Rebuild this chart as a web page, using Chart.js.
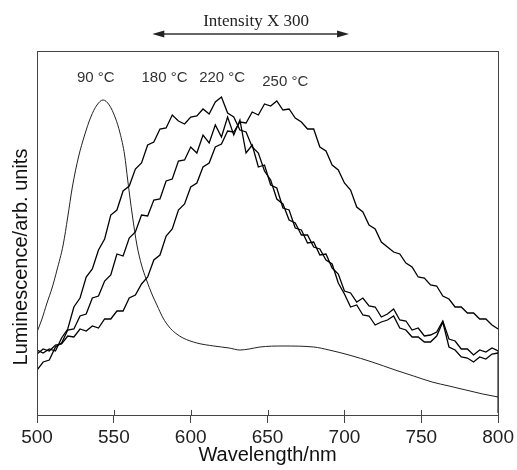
<!DOCTYPE html>
<html>
<head>
<meta charset="utf-8">
<script src="https://cdn.jsdelivr.net/npm/chart.js@4"></script>
<style>
  html, body { margin: 0; padding: 0; background: #fff; }
</style>
</head>
<body>
<canvas id="chart" width="517" height="470"></canvas>
<script>
// wavelength grid (nm) for the three noisy spectra
const wavelengths = [500,504,508,512,516,520,524,528,532,536,540,544,548,552,556,560,564,568,572,576,
  580,584,588,592,596,600,604,608,612,616,620,624,628,632,636,640,644,648,652,656,
  660,664,668,672,676,680,684,688,692,696,700,704,708,712,716,720,724,728,732,736,
  740,744,748,752,756,760,764,768,772,776,780,784,788,792,796,800];

const lum180 = [65,62,66,64,77,86,108,117,138,146,165,176,200,205,224,229,246,252,270,273,
  286,287,300,294,291,298,299,306,301,313,318,302,298,285,283,268,262,244,235,216,
  211,195,192,180,180,168,166,155,151,132,121,108,110,100,99,90,93,95,99,87,
  85,78,78,73,73,79,93,68,65,58,57,53,58,56,61,62];

const lum220 = [45,53,55,68,72,85,86,99,101,117,119,134,140,161,159,177,183,200,199,215,
  216,234,236,254,255,268,262,280,272,290,278,298,280,295,262,270,248,250,230,227,
  207,205,187,185,172,173,160,161,147,141,124,122,113,117,109,108,98,101,106,95,
  94,85,87,79,80,83,94,76,74,66,66,60,65,63,67,64];

const lum250 = [61,66,64,70,71,79,78,86,84,89,87,96,96,104,104,117,120,131,138,155,
  160,179,186,205,211,228,232,248,252,268,271,284,283,293,292,303,300,311,309,314,
  305,306,297,293,286,286,268,264,250,245,232,225,208,203,190,186,173,168,163,161,
  152,148,138,137,130,129,119,116,108,108,102,102,96,96,90,86];

// 90 °C spectrum (smooth, not scaled)
const wl90 = [500,503,506.5,510,513,517,520,523,527,531,535,539,543,547,551,554,557,559,562,565,
  568,571,575,578,582,586,590,595,604,615,625,632,638,645,660,680,690,703,718,733,
  745,757,768,779,790,800];
const lum90 = [83,95,112,128,145,170,198,228,258,280,298,310,315,310,297,282,260,235,200,170,
  150,136,120,110,97,88,82,77,72,69,67,65,66,68,69,68,65,60,53,45,
  39,33,29,25,21,18];

// the spectrum drops to the baseline at the right edge
const endDropWl = 800;
const endDropLum = 2;

const xTicks = [500, 550, 600, 650, 700, 750, 800];

// labels placed in data units
const tempLabels = ['90 °C', '180 °C', '220 °C', '250 °C'];
const tempLabelWl = [526, 568, 605.5, 646.5];
const tempLabelLum = [333, 333, 333, 329];

function pts(xs, ys) {
    return xs.map((x, i) => ({ x: x, y: ys[i] }));
}

const data220 = pts(wavelengths, lum220);
data220.push({ x: endDropWl, y: endDropLum });

const annotations = {
    id: 'annotations',
    afterDraw(chart) {
        const { ctx, chartArea, scales: { x, y } } = chart;
        ctx.save();

        // frame around the plot
        ctx.strokeStyle = '#444';
        ctx.lineWidth = 1;
        ctx.strokeRect(Math.round(chartArea.left) + 0.5, Math.round(chartArea.top) + 0.5,
            Math.round(chartArea.right - chartArea.left), Math.round(chartArea.bottom - chartArea.top));

        // short inner part of the x ticks
        x.ticks.forEach(t => {
            const px = Math.round(x.getPixelForValue(t.value)) + 0.5;
            ctx.beginPath();
            ctx.moveTo(px, chartArea.bottom);
            ctx.lineTo(px, chartArea.bottom - 5);
            ctx.stroke();
        });

        // temperature labels
        ctx.fillStyle = '#333';
        ctx.font = '15px "Liberation Sans", Arial, sans-serif';
        ctx.textAlign = 'left';
        ctx.textBaseline = 'alphabetic';
        tempLabels.forEach((txt, i) => {
            ctx.fillText(txt, x.getPixelForValue(tempLabelWl[i]), y.getPixelForValue(tempLabelLum[i]));
        });

        // "Intensity X 300" with double arrow
        ctx.fillStyle = '#222';
        ctx.font = '17px "Liberation Serif", "Times New Roman", serif';
        ctx.textAlign = 'center';
        ctx.fillText('Intensity X 300', x.getPixelForValue(642.5), y.getPixelForValue(389));

        const ax1 = x.getPixelForValue(575), ax2 = x.getPixelForValue(703);
        const ay = y.getPixelForValue(381);
        ctx.strokeStyle = '#333';
        ctx.lineWidth = 1.5;
        ctx.beginPath();
        ctx.moveTo(ax1 + 6, ay);
        ctx.lineTo(ax2 - 6, ay);
        ctx.stroke();
        ctx.fillStyle = '#222';
        ctx.beginPath();
        ctx.moveTo(ax1, ay); ctx.lineTo(ax1 + 12, ay - 3.5); ctx.lineTo(ax1 + 12, ay + 3.5); ctx.closePath();
        ctx.fill();
        ctx.beginPath();
        ctx.moveTo(ax2, ay); ctx.lineTo(ax2 - 12, ay - 3.5); ctx.lineTo(ax2 - 12, ay + 3.5); ctx.closePath();
        ctx.fill();

        // y axis title
        ctx.translate(chartArea.left - 10, y.getPixelForValue(158));
        ctx.rotate(-Math.PI / 2);
        ctx.fillStyle = '#111';
        ctx.font = '20px "Liberation Sans", Arial, sans-serif';
        ctx.textAlign = 'center';
        ctx.textBaseline = 'alphabetic';
        ctx.fillText('Luminescence/arb. units', 0, 0);

        ctx.restore();
    }
};

const noisy = { borderColor: '#000', borderWidth: 1.3, pointRadius: 0, tension: 0, fill: false };

new Chart(document.getElementById('chart'), {
    type: 'line',
    data: {
        datasets: [
            Object.assign({ label: '180 °C', data: pts(wavelengths, lum180) }, noisy),
            Object.assign({ label: '220 °C', data: data220 }, noisy),
            Object.assign({ label: '250 °C', data: pts(wavelengths, lum250) }, noisy),
            { label: '90 °C', data: pts(wl90, lum90), borderColor: '#222', borderWidth: 1,
              pointRadius: 0, cubicInterpolationMode: 'monotone', fill: false }
        ]
    },
    options: {
        responsive: false,
        animation: false,
        layout: { padding: { top: 51, right: 17, left: 0, bottom: 0 } },
        plugins: { legend: { display: false }, tooltip: { enabled: false } },
        scales: {
            x: {
                type: 'linear', min: 500, max: 800,
                afterBuildTicks: s => { s.ticks = xTicks.map(v => ({ value: v })); },
                ticks: { font: { family: '"Liberation Sans", Arial, sans-serif', size: 19 }, color: '#222', padding: 3, maxRotation: 0 },
                grid: { drawOnChartArea: false, tickLength: 8, color: '#444' },
                border: { display: false },
                title: { display: true, text: 'Wavelength/nm', color: '#111',
                         font: { family: '"Liberation Sans", Arial, sans-serif', size: 20 }, padding: { top: 0, bottom: 3 } },
                afterFit: s => { s.height = 55; }
            },
            y: {
                min: 0, max: 364,
                ticks: { display: false },
                grid: { display: false },
                border: { display: false },
                afterFit: s => { s.width = 37; }
            }
        }
    },
    plugins: [annotations]
});
</script>
</body>
</html>
